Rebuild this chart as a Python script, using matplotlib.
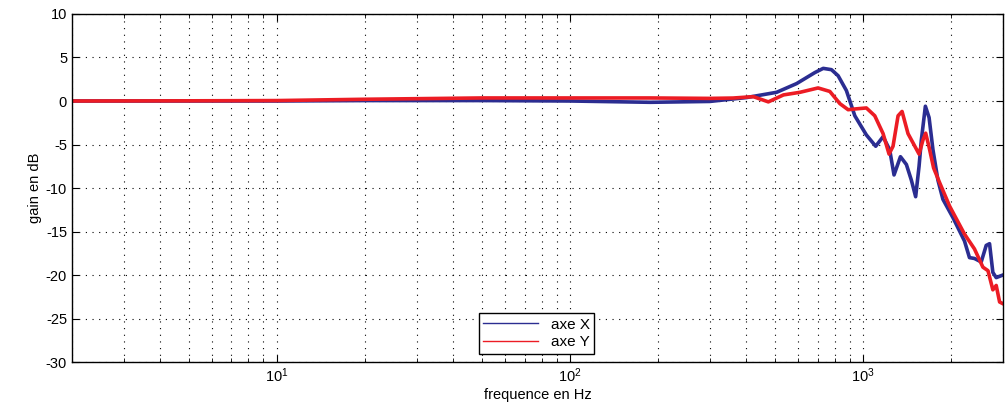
import numpy as np
import matplotlib.pyplot as plt
from matplotlib.ticker import LogLocator, NullFormatter

plt.rcParams['font.family'] = ['Liberation Sans', 'DejaVu Sans']
plt.rcParams['axes.unicode_minus'] = False

# axe X (bleu)
freq_x = [2, 5, 10, 20, 50, 100, 188, 300, 401, 507, 593, 684, 731, 780, 822, 877,
          937, 1026, 1104, 1170, 1232, 1275, 1341, 1405, 1461, 1511, 1552, 1580, 1631,
          1679, 1731, 1800, 1872, 2025, 2218, 2306, 2398, 2529, 2630, 2700, 2771, 2845, 3000]
gain_x = [0.0, 0.0, 0.0, 0.05, 0.05, 0.0, -0.15, -0.05, 0.4, 1.0, 2.0, 3.26, 3.75, 3.6, 2.9, 1.2,
          -1.7, -3.9, -5.2, -4.1, -5.6, -8.5, -6.4, -7.3, -9.1, -11.0, -7.5, -4.5, -0.6,
          -1.9, -5.6, -9.1, -11.3, -13.4, -16.1, -18.0, -18.1, -18.5, -16.6, -16.4, -19.7, -20.3, -20.0]

# axe Y (rouge)
freq_y = [2, 5, 10, 20, 50, 100, 188, 300, 360, 422, 475, 535, 609, 702, 770, 833, 889,
          949, 1026, 1096, 1170, 1226, 1265, 1316, 1358, 1423, 1552, 1600, 1635, 1679,
          1740, 1825, 1974, 2218, 2398, 2563, 2667, 2771, 2845, 2922, 3000]
gain_y = [0.0, 0.02, 0.05, 0.2, 0.35, 0.35, 0.35, 0.3, 0.34, 0.5, -0.1, 0.7, 1.0, 1.5, 1.1, -0.3, -1.0,
          -0.9, -0.8, -1.7, -3.75, -6.1, -5.2, -1.7, -1.2, -3.75, -6.1, -4.5, -3.7, -5.3,
          -7.7, -9.4, -12.1, -15.3, -17.0, -19.1, -19.5, -21.7, -21.2, -23.1, -23.3]

fig = plt.figure(figsize=(10.08, 4.08), dpi=100)
ax = fig.add_axes([0.0714, 0.1127, 0.9236, 0.853])

ax.semilogx(freq_x, gain_x, color='#2b2d91', linewidth=2.6, label='axe X')
ax.semilogx(freq_y, gain_y, color='#ec1c24', linewidth=2.6, label='axe Y')

ax.set_xlim(2, 3000)
ax.set_ylim(-30, 10)
ax.set_yticks(np.arange(-30, 11, 5))
ax.xaxis.set_minor_locator(LogLocator(base=10, subs=np.arange(2, 10)))
ax.xaxis.set_minor_formatter(NullFormatter())

ax.grid(True, which='major', linestyle=(0, (1, 5)), color='black', linewidth=0.8)
ax.grid(True, which='minor', axis='x', linestyle=(0, (1, 5)), color='black', linewidth=0.8)
ax.tick_params(which='both', direction='in', top=True, right=True, labelsize=10.5)
ax.tick_params(which='major', length=5)
ax.tick_params(which='minor', length=3)
for s in ax.spines.values():
    s.set_linewidth(1.0)

ax.set_xlabel('frequence en Hz', fontsize=10.5, labelpad=2)
ax.set_ylabel('gain en dB', fontsize=10.5, labelpad=3)

leg = ax.legend(loc='lower left', bbox_to_anchor=(0.437, 0.023), borderaxespad=0,
                fontsize=11, handlelength=3.6, fancybox=False, framealpha=1,
                edgecolor='black', borderpad=0.3, labelspacing=0.25)
for h in leg.get_lines():
    h.set_linewidth(1.0)

fig.savefig('out.png', dpi=100)
